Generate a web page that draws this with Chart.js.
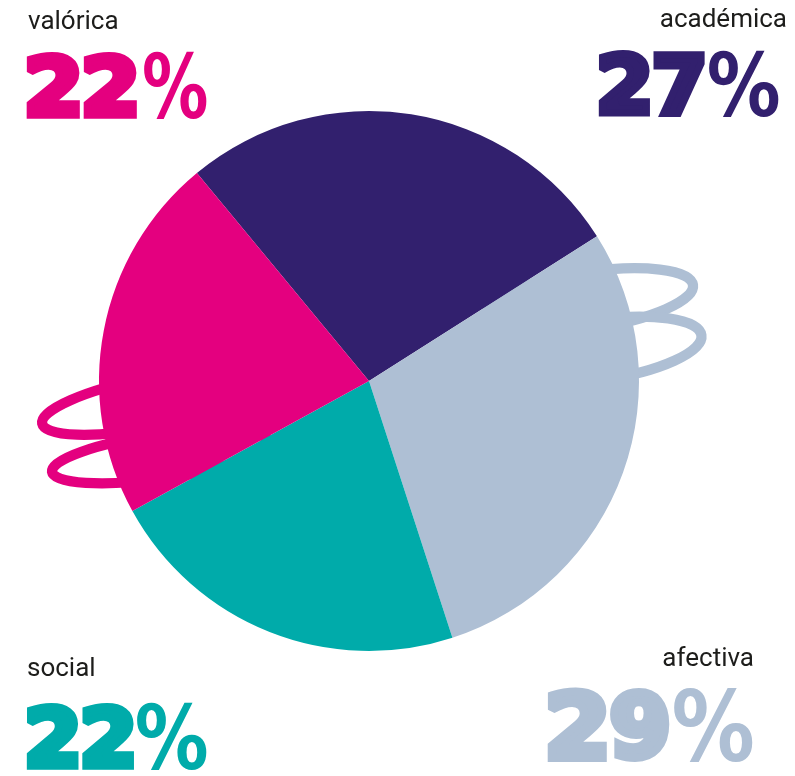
<!DOCTYPE html>
<html>
<head>
<meta charset="utf-8">
<script src="https://cdn.jsdelivr.net/npm/chart.js@4.4.1/dist/chart.umd.min.js"></script>
<style>
html,body{margin:0;padding:0;background:#fff;}
#wrap{width:795px;height:776px;position:relative;}
</style>
</head>
<body>
<div id="wrap"><canvas id="c" width="795" height="776"></canvas></div>
<script>
// ---- data ----
const categories = ['académica', 'afectiva', 'social', 'valórica'];
const values = [27, 29, 22, 22];
const colors = ['#32206E', '#AEBFD4', '#00ABAA', '#E4007F'];

// label placement (layout only)
const labelLayout = {
  'académica': {x: 787, base: 27,  top: 51,  bottom: 117, dL: 598, dR: 705, pL: 709, pR: 779, align: 'right'},
  'afectiva':  {x: 754, base: 666, top: 688, bottom: 762, dL: 547, dR: 670, pL: 674, pR: 753, align: 'right'},
  'social':    {x: 27,  base: 676, top: 703, bottom: 770, dL: 26,  dR: 134, pL: 137, pR: 207, align: 'left'},
  'valórica':  {x: 28,  base: 29,  top: 52,  bottom: 119, dL: 26,  dR: 137, pL: 144, pR: 207, align: 'left'}
};

// orbit rings (relative to pie center / radius)
const rings = [
  {color: '#E4007F', cx: -0.811, cy: 0.080, a: 0.407, b: 0.092, rot: -11},
  {color: '#E4007F', cx: -0.774, cy: 0.280, a: 0.404, b: 0.082, rot: -8},
  {color: '#AEBFD4', cx: 0.819, cy: -0.300, a: 0.385, b: 0.105, rot: -8.3},
  {color: '#AEBFD4', cx: 0.850, cy: -0.115, a: 0.385, b: 0.112, rot: -8.1}
];

const ringPlugin = {
  id: 'rings',
  beforeDatasetsDraw(chart) {
    const arc = chart.getDatasetMeta(0).data[0];
    if (!arc) return;
    const {x, y, outerRadius: r} = arc;
    const ctx = chart.ctx;
    ctx.save();
    rings.forEach(g => {
      ctx.beginPath();
      ctx.ellipse(x + g.cx * r, y + g.cy * r, g.a * r, g.b * r, g.rot * Math.PI / 180, 0, Math.PI * 2);
      ctx.strokeStyle = g.color;
      ctx.lineWidth = 0.038 * r;
      ctx.stroke();
    });
    ctx.restore();
  }
};

function drawFitted(ctx, text, color, left, right, top, bottom, lw, font) {
  ctx.save();
  ctx.textAlign = 'left';
  ctx.textBaseline = 'alphabetic';
  ctx.font = font;
  const m = ctx.measureText(text);
  const w = m.actualBoundingBoxLeft + m.actualBoundingBoxRight + lw;
  const h = m.actualBoundingBoxAscent + m.actualBoundingBoxDescent + lw;
  ctx.translate(left, top);
  ctx.scale((right - left) / w, (bottom - top) / h);
  ctx.fillStyle = color;
  const tx = m.actualBoundingBoxLeft + lw / 2, ty = m.actualBoundingBoxAscent + lw / 2;
  ctx.fillText(text, tx, ty);
  if (lw > 0) {
    ctx.strokeStyle = color;
    ctx.lineWidth = lw;
    ctx.lineJoin = 'miter';
    ctx.miterLimit = 2;
    ctx.strokeText(text, tx, ty);
  }
  ctx.restore();
}

const labelPlugin = {
  id: 'labels',
  afterDraw(chart) {
    const ctx = chart.ctx;
    const total = values.reduce((s, v) => s + v, 0);
    ctx.save();
    categories.forEach((cat, i) => {
      const L = labelLayout[cat];
      ctx.font = '400 26px Roboto, "DejaVu Sans", sans-serif';
      ctx.fillStyle = '#1d1d1b';
      ctx.textAlign = L.align;
      ctx.textBaseline = 'alphabetic';
      ctx.fillText(cat, L.x, L.base);
      const num = String(Math.round(values[i] / total * 100));
      const gap = 3;
      const dw = (L.dR - L.dL - gap * (num.length - 1)) / num.length;
      for (let k = 0; k < num.length; k++) {
        const l = L.dL + k * (dw + gap);
        drawFitted(ctx, num[k], colors[i], l, l + dw, L.top, L.bottom, 9, 'bold 100px "DejaVu Sans", sans-serif');
      }
      drawFitted(ctx, '%', colors[i], L.pL, L.pR, L.top, L.bottom, 0, 'bold 100px "DejaVu Sans", sans-serif');
    });
    ctx.restore();
  }
};

new Chart(document.getElementById('c'), {
  type: 'pie',
  data: {
    labels: categories,
    datasets: [{
      data: values,
      backgroundColor: colors,
      borderWidth: 0
    }]
  },
  options: {
    responsive: false,
    animation: false,
    rotation: -39.6,
    layout: {padding: {left: 99, right: 156, top: 111, bottom: 125}},
    plugins: {legend: {display: false}, tooltip: {enabled: false}}
  },
  plugins: [ringPlugin, labelPlugin]
});
</script>
</body>
</html>
